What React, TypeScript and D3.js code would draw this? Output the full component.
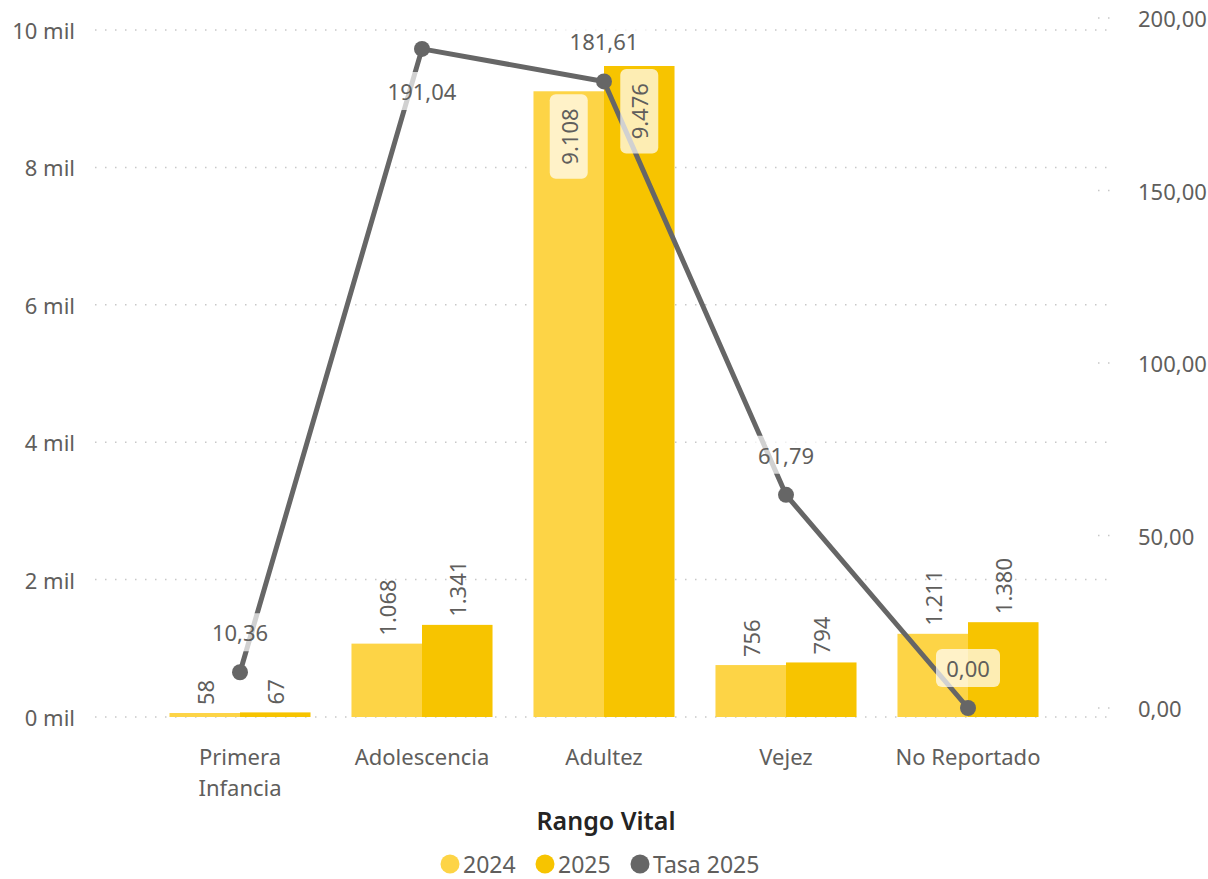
import React from "react";
import * as d3 from "d3";

const categories = ["Primera Infancia", "Adolescencia", "Adultez", "Vejez", "No Reportado"];
const values2024 = [58, 1068, 9108, 756, 1211];
const values2025 = [67, 1341, 9476, 794, 1380];
const tasa2025 = [10.36, 191.04, 181.61, 61.79, 0.0];
const leftTicks = [0, 2000, 4000, 6000, 8000, 10000];
const rightTicks = [0, 50, 100, 150, 200];

const W = 1208;
const H = 879;
const FONT = "'Segoe UI', 'Noto Sans', 'Open Sans', sans-serif";
const C2024 = "#FDD446";
const C2025 = "#F7C400";
const CLINE = "#666666";
const TXT = "#605E5C";
const FS = 22;

const fmtInt = (v: number) => d3.format(",")(v).replace(/,/g, ".");
const fmtDec = (v: number) => v.toFixed(2).replace(".", ",");

export default function App() {
  const x = d3
    .scaleBand<string>()
    .domain(categories)
    .range([149, 1059])
    .paddingInner(0.225)
    .paddingOuter(0.1125);
  const half = x.bandwidth() / 2;
  const yL = d3.scaleLinear().domain([0, 10000]).range([717, 30]);
  const yR = d3.scaleLinear().domain([0, 200]).range([708, 18]);

  const line = d3
    .line<number>()
    .x((_, i) => (x(categories[i]) as number) + half)
    .y((d) => yR(d));

  const barLabel = (v: number, cx: number, key: string) => {
    const top = yL(v);
    const txt = fmtInt(v);
    const len = txt.length * 12.5;
    if (v > 8000) {
      const boxH = len + 22;
      const cy = top + 3 + boxH / 2;
      return (
        <g key={key}>
          <rect x={cx - 19} y={top + 3} width={38} height={boxH} rx={6} fill="rgba(255,255,255,0.7)" />
          <text
            transform={`translate(${cx},${cy}) rotate(-90)`}
            textAnchor="middle"
            dominantBaseline="central"
            fontSize={FS}
            fill={TXT}
          >
            {txt}
          </text>
        </g>
      );
    }
    return (
      <text
        key={key}
        transform={`translate(${cx},${top - 8}) rotate(-90)`}
        textAnchor="start"
        dominantBaseline="central"
        fontSize={FS}
        fill={TXT}
      >
        {txt}
      </text>
    );
  };

  return (
    <svg width={W} height={H} style={{ position: "absolute", left: 0, top: 0, fontFamily: FONT }}>
      <rect width={W} height={H} fill="#ffffff" />
      {leftTicks.map((t) => (
        <g key={"l" + t}>
          <line x1={95} x2={1112} y1={yL(t)} y2={yL(t)} stroke="#C8C8C8" strokeDasharray="1.5,8.5" strokeWidth={1.5} />
          <text x={75} y={yL(t)} textAnchor="end" dominantBaseline="central" fontSize={FS} fill={TXT}>
            {t / 1000} mil
          </text>
        </g>
      ))}
      {rightTicks.map((t) => (
        <g key={"r" + t}>
          <line x1={1098} x2={1118} y1={yR(t)} y2={yR(t)} stroke="#C8C8C8" strokeDasharray="1.5,8.5" strokeWidth={1.5} />
          <text x={1138} y={yR(t)} textAnchor="start" dominantBaseline="central" fontSize={FS} fill={TXT}>
            {fmtDec(t)}
          </text>
        </g>
      ))}
      {categories.map((c, i) => {
        const x0 = x(c) as number;
        return (
          <g key={"b" + c}>
            <rect x={x0} y={yL(values2024[i])} width={half} height={yL(0) - yL(values2024[i])} fill={C2024} />
            <rect x={x0 + half} y={yL(values2025[i])} width={half} height={yL(0) - yL(values2025[i])} fill={C2025} />
          </g>
        );
      })}
      <path d={line(tasa2025) || ""} fill="none" stroke={CLINE} strokeWidth={5} strokeLinejoin="round" />
      {tasa2025.map((v, i) => (
        <circle key={"p" + i} cx={(x(categories[i]) as number) + half} cy={yR(v)} r={8} fill={CLINE} />
      ))}
      {categories.map((c, i) => {
        const x0 = x(c) as number;
        return (
          <g key={"bl" + c}>
            {barLabel(values2024[i], x0 + half / 2, "a" + i)}
            {barLabel(values2025[i], x0 + half * 1.5, "b" + i)}
          </g>
        );
      })}
      {tasa2025.map((v, i) => {
        const cx = (x(categories[i]) as number) + half;
        const py = yR(v);
        const cy = py - 40 < 25 ? py + 42 : py - 40;
        const txt = fmtDec(v);
        const w = txt.length * 12 + 16;
        return (
          <g key={"tl" + i}>
            <rect x={cx - w / 2} y={cy - 19} width={w} height={38} rx={6} fill="rgba(255,255,255,0.7)" />
            <text x={cx} y={cy} textAnchor="middle" dominantBaseline="central" fontSize={FS} fill={TXT}>
              {txt}
            </text>
          </g>
        );
      })}
      {categories.map((c) => {
        const cx = (x(c) as number) + half;
        const parts = c === "Primera Infancia" ? ["Primera", "Infancia"] : [c];
        return (
          <text key={"x" + c} x={cx} y={756} textAnchor="middle" dominantBaseline="central" fontSize={FS} fill={TXT}>
            {parts.map((p, j) => (
              <tspan key={j} x={cx} dy={j === 0 ? 0 : 31}>
                {p}
              </tspan>
            ))}
          </text>
        );
      })}
      <text x={606} y={820} textAnchor="middle" dominantBaseline="central" fontSize={25} fontWeight={600} fill="#252423">
        Rango Vital
      </text>
      {[
        { label: "2024", color: C2024, cx: 450 },
        { label: "2025", color: C2025, cx: 545 },
        { label: "Tasa 2025", color: CLINE, cx: 640 },
      ].map((d) => (
        <g key={d.label}>
          <circle cx={d.cx} cy={864} r={9.5} fill={d.color} />
          <text x={d.cx + 13} y={864} dominantBaseline="central" fontSize={23} fill={TXT}>
            {d.label}
          </text>
        </g>
      ))}
    </svg>
  );
}
